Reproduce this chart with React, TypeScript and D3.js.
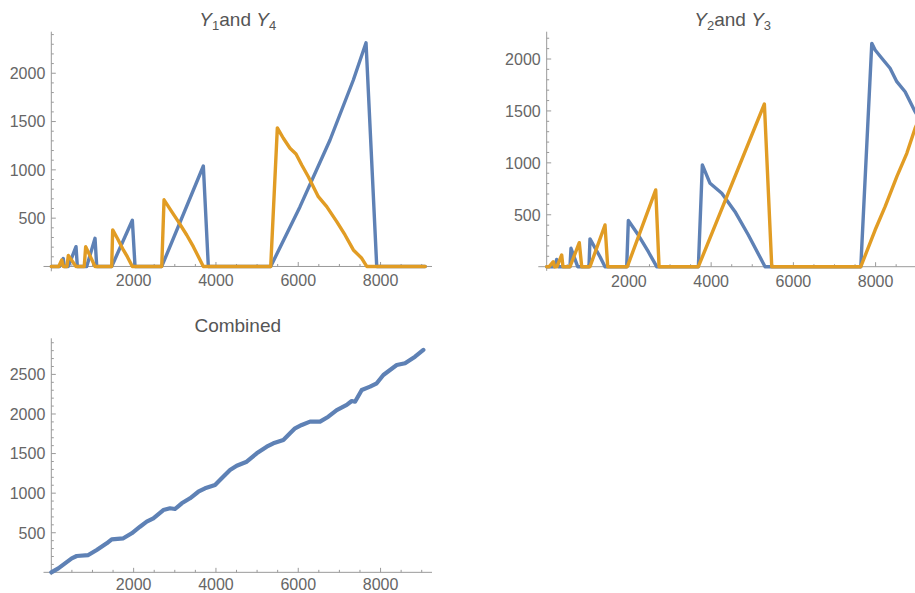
import React from 'react';
import * as d3 from 'd3';

type Pt = [number, number];

// Queue lengths over time (step index, length)
const y1Points: Pt[] = [
  [0, 0], [200, 0], [290, 82], [315, 0], [413, 0], [600, 205], [632, 0], [860, 0],
  [1062, 292], [1103, 0], [1467, 0], [1969, 478], [2034, 0], [2683, 0], [3694, 1040],
  [3815, 0], [5331, 0], [6043, 619], [6772, 1309], [7339, 1930], [7647, 2315],
  [7907, 0], [9085, 0],
];

const y4Points: Pt[] = [
  [0, 0], [180, 0], [253, 67], [290, 0], [380, 0], [413, 115], [600, 0], [800, 0],
  [835, 205], [1062, 0], [1467, 0], [1491, 378], [1604, 292], [1750, 171], [1847, 101],
  [1969, 0], [2683, 0], [2739, 690], [2925, 567], [3086, 464], [3290, 326], [3451, 205],
  [3694, 0], [5331, 0], [5492, 1435], [5638, 1327], [5800, 1223], [5946, 1164],
  [6085, 1050], [6245, 929], [6488, 722], [6692, 619], [6935, 464], [7137, 326],
  [7339, 171], [7543, 85], [7664, 0], [9085, 0],
];

const y2Points: Pt[] = [
  [0, 0], [200, 0], [243, 70], [280, 0], [567, 0], [591, 177], [754, 0], [1029, 0],
  [1053, 268], [1297, 96], [1418, 0], [1946, 0], [1986, 445], [2229, 305], [2472, 144],
  [2676, 0], [3689, 0], [3786, 980], [3973, 803], [4258, 707], [4581, 530], [4905, 305],
  [5311, 0], [7640, 0], [7907, 2151], [7988, 2087], [8151, 2007], [8352, 1911],
  [8516, 1782], [8718, 1685], [8961, 1493], [9085, 1410],
];

const y3Points: Pt[] = [
  [0, 0], [60, 0], [161, 48], [190, 0], [250, 0], [365, 113], [395, 0], [567, 0],
  [793, 231], [852, 0], [1053, 0], [1418, 402], [1484, 0], [1961, 0], [2652, 739],
  [2733, 0], [3689, 0], [5295, 1567], [5474, 0], [7640, 0], [7988, 353], [8231, 578],
  [8516, 867], [8759, 1092], [8961, 1333], [9085, 1450],
];

const combinedPoints: Pt[] = [
  [0, 0], [170, 50], [496, 177], [617, 206], [899, 218], [1103, 282], [1346, 366],
  [1468, 417], [1750, 430], [1954, 493], [2155, 576], [2318, 640], [2479, 682],
  [2722, 787], [2884, 809], [3006, 800], [3169, 872], [3370, 935], [3572, 1018],
  [3735, 1061], [3978, 1103], [4140, 1188], [4342, 1292], [4505, 1347], [4748, 1397],
  [4991, 1503], [5234, 1587], [5395, 1630], [5638, 1672], [5800, 1756], [5922, 1819],
  [6085, 1861], [6286, 1903], [6529, 1903], [6731, 1966], [6935, 2050], [7178, 2114],
  [7300, 2164], [7380, 2155], [7543, 2303], [7745, 2345], [7907, 2388], [8068, 2493],
  [8230, 2556], [8393, 2619], [8595, 2641], [8838, 2724], [9040, 2809],
];

const xTickLabels = [2000, 4000, 6000, 8000];
const yTickLabelsTop = [500, 1000, 1500, 2000];
const yTickLabelsBottom = [500, 1000, 1500, 2000, 2500];

const BLUE = '#5E81B5';
const ORANGE = '#E19C24';
const AXIS = '#9a9a9a';
const LABEL = '#666666';
const TITLE = '#555555';
const FONT = '"Liberation Sans", Arial, sans-serif';

type Series = { points: Pt[]; color: string; width: number };

type PanelProps = {
  xDomain: [number, number];
  xRange: [number, number];
  yDomain: [number, number];
  yRange: [number, number];
  yLabels: number[];
  series: Series[];
  title: React.ReactNode;
  titleY: number;
  labelOffset: number;
};

function Panel({ xDomain, xRange, yDomain, yRange, yLabels, series, title, titleY, labelOffset }: PanelProps) {
  const x = d3.scaleLinear().domain(xDomain).range(xRange);
  const y = d3.scaleLinear().domain(yDomain).range(yRange);
  const ax = x(0);
  const ay = y(0);
  const line = d3
    .line<Pt>()
    .x((d) => x(d[0]))
    .y((d) => y(d[1]));

  const xMinor = d3.range(500, xDomain[1], 500).filter((v) => v % 2000 !== 0);
  const yMinor = d3.range(100, yDomain[1], 100).filter((v) => v % 500 !== 0);
  const yMajor = d3.range(500, yDomain[1], 500);
  const xMajor = d3.range(2000, xDomain[1], 2000);
  const cx = (xRange[0] + xRange[1]) / 2;

  return (
    <g>
      <text x={cx} y={titleY} textAnchor="middle" fontSize={19} fill={TITLE} fontFamily={FONT}>
        {title}
      </text>
      {/* axes */}
      <line x1={xRange[0]} x2={xRange[1]} y1={ay} y2={ay} stroke={AXIS} strokeWidth={1} />
      <line x1={ax} x2={ax} y1={yRange[0]} y2={yRange[1]} stroke={AXIS} strokeWidth={1} />
      {xMinor.map((v) => (
        <line key={'xm' + v} x1={x(v)} x2={x(v)} y1={ay} y2={ay - 2.5} stroke={AXIS} />
      ))}
      {xMajor.map((v) => (
        <line key={'xM' + v} x1={x(v)} x2={x(v)} y1={ay} y2={ay - 4.5} stroke={AXIS} />
      ))}
      {yMinor.map((v) => (
        <line key={'ym' + v} x1={ax} x2={ax + 2.5} y1={y(v)} y2={y(v)} stroke={AXIS} />
      ))}
      {yMajor.map((v) => (
        <line key={'yM' + v} x1={ax} x2={ax + 4.5} y1={y(v)} y2={y(v)} stroke={AXIS} />
      ))}
      {xTickLabels.map((v) => (
        <text key={'xl' + v} x={x(v)} y={ay + labelOffset} textAnchor="middle" fontSize={16} fill={LABEL} fontFamily={FONT}>
          {v}
        </text>
      ))}
      {yLabels.map((v) => (
        <text key={'yl' + v} x={ax - 6} y={y(v)} dy="0.36em" textAnchor="end" fontSize={16} fill={LABEL} fontFamily={FONT}>
          {v}
        </text>
      ))}
      {series.map((s, i) => (
        <path
          key={i}
          d={line(s.points) || ''}
          fill="none"
          stroke={s.color}
          strokeWidth={s.width}
          strokeLinejoin="round"
          strokeLinecap="round"
        />
      ))}
    </g>
  );
}

function SubTitle({ a, b }: { a: string; b: string }) {
  return (
    <>
      <tspan fontStyle="italic">Y</tspan>
      <tspan fontSize={13} dy={4}>{a}</tspan>
      <tspan dy={-4}>and </tspan>
      <tspan fontStyle="italic">Y</tspan>
      <tspan fontSize={13} dy={4}>{b}</tspan>
    </>
  );
}

export default function App() {
  return (
    <div style={{ position: 'absolute', left: 0, top: 0 }}>
      <svg width={915} height={593} style={{ display: 'block', background: '#fff' }}>
        <Panel
          xDomain={[-190, 9250]}
          xRange={[43.5, 432]}
          yDomain={[-50, 2430]}
          yRange={[271.3, 31.7]}
          yLabels={yTickLabelsTop}
          series={[
            { points: y1Points, color: BLUE, width: 3.4 },
            { points: y4Points, color: ORANGE, width: 3.4 },
          ]}
          title={<SubTitle a="1" b="4" />}
          titleY={26}
          labelOffset={20}
        />
        <Panel
          xDomain={[-204, 9250]}
          xRange={[538.3, 927]}
          yDomain={[-40, 2263]}
          yRange={[270.85, 31.7]}
          yLabels={yTickLabelsTop}
          series={[
            { points: y2Points, color: BLUE, width: 3.4 },
            { points: y3Points, color: ORANGE, width: 3.4 },
          ]}
          title={<SubTitle a="2" b="3" />}
          titleY={26}
          labelOffset={20}
        />
        <Panel
          xDomain={[-190, 9250]}
          xRange={[43.5, 432]}
          yDomain={[-35, 2956]}
          yRange={[575.1, 338.3]}
          yLabels={yTickLabelsBottom}
          series={[{ points: combinedPoints, color: BLUE, width: 4.2 }]}
          title="Combined"
          titleY={331.5}
          labelOffset={17.5}
        />
      </svg>
    </div>
  );
}
